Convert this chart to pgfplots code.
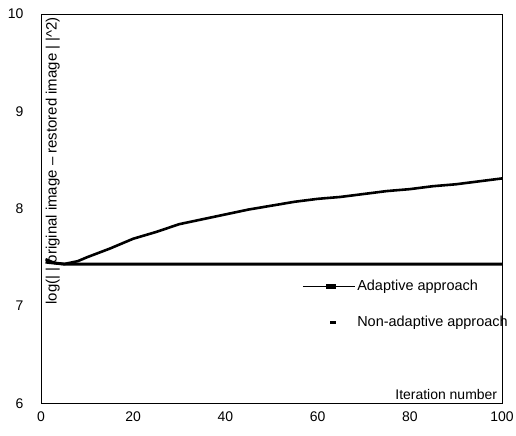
\documentclass[border=0pt]{standalone}
\usepackage{pgfplots}
\pgfplotsset{compat=1.18}
\usepackage{fontspec}
\setmainfont{Liberation Sans}
\begin{document}
\begin{tikzpicture}
\begin{axis}[
  name=ax,
  scale only axis,
  width=462pt, height=390pt,
  xmin=0, xmax=100, ymin=6, ymax=10,
  xtick={0,20,40,60,80,100},
  ytick={6,7,8,9,10},
  major tick length=0pt,
  /pgf/number format/assume math mode=true,
  tick label style={font=\fontsize{14}{16}\selectfont},
  yticklabel style={xshift=-14pt},
  xticklabel style={yshift=-5pt},
  axis line style={line width=0.6pt},
  clip=false,
  legend style={draw=none, fill=none, at={(rel axis cs:0.567,0.254)}, anchor=west,
    font=\fontsize{14.5}{16}\selectfont, row sep=20pt, legend cell align=left,
    inner sep=0pt},
  legend image code/.code={
    \draw[#1, line width=0.8pt] (0pt,0pt) -- (52pt,0pt);
    \fill[black] (24pt,-1pt) rectangle +(8pt,2pt);
  },
]
\addplot[black, line width=2.6pt] coordinates {
 (1,7.48) (3,7.44) (5,7.43) (8,7.46) (10,7.50) (15,7.59) (20,7.69) (25,7.76) (30,7.84)
 (35,7.89) (40,7.94) (45,7.99) (50,8.03) (55,8.07) (60,8.10) (65,8.12) (70,8.15)
 (75,8.18) (80,8.20) (85,8.23) (90,8.25) (95,8.28) (100,8.31)
};
\addlegendentry{Adaptive approach}
\addplot[black, line width=3pt, forget plot] coordinates {
 (1,7.45) (5,7.43) (10,7.43) (20,7.43) (30,7.43) (40,7.43) (50,7.43) (60,7.43)
 (70,7.43) (80,7.43) (90,7.43) (100,7.43)
};
\addlegendimage{legend image code/.code={\fill[black] (27pt,-1.2pt) rectangle +(5pt,2.4pt);}}
\addlegendentry{Non-adaptive approach}
\node[rotate=90, anchor=west, font=\fontsize{15}{17}\selectfont] at (rel axis cs:0.026,0.245) {log(| | original image -- restored image | |\^{}2)};
\node[anchor=south east, font=\fontsize{14}{16}\selectfont] at (rel axis cs:0.997,0.0) {Iteration number};
\end{axis}
\pgfresetboundingbox
\path[use as bounding box] ([xshift=-41pt,yshift=-32pt]ax.south west) rectangle ([xshift=14pt,yshift=14pt]ax.north east);
\end{tikzpicture}
\end{document}
